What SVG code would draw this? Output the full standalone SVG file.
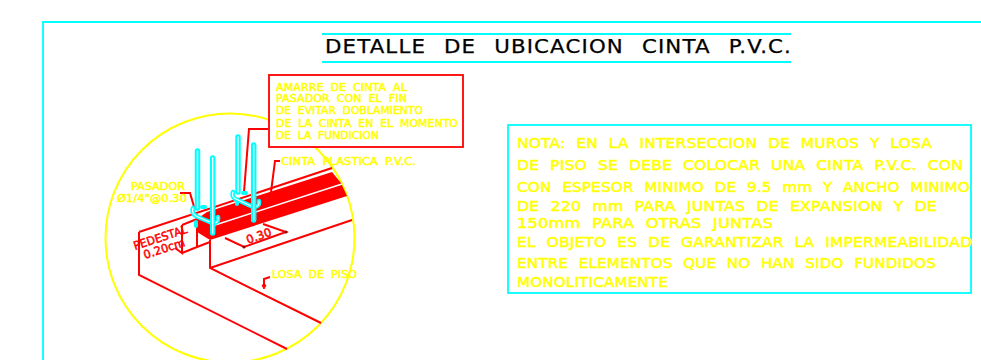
<svg xmlns="http://www.w3.org/2000/svg" width="981" height="360" viewBox="0 0 981 360">
<style>
text{font-family:"DejaVu Sans","Liberation Sans",sans-serif;fill:#ff0;stroke:#ff0;stroke-width:.5}
.note{font-size:13.5px;word-spacing:5px;letter-spacing:.2px}
.small{font-size:10px;word-spacing:3px;letter-spacing:.1px}
.red{fill:#f00;stroke:#f00;font-size:11.5px}
.rl{fill:none;stroke:#f00;stroke-width:2}
.cy{fill:none;stroke:#0ff;stroke-width:1.8}
.barO{fill:none;stroke:#0ff;stroke-width:5.5;stroke-linecap:round;stroke-linejoin:round}
.barI{fill:none;stroke:#fff;stroke-width:1.3;stroke-linecap:round;stroke-linejoin:round}
</style>
<rect width="981" height="360" fill="#fff"/>
<g id="frame"><path class="cy" d="M981 22H43V360"/></g>
<g id="title">
<path class="cy" d="M322 34H791M322 62H791"/>
<text x="325" y="53" font-size="19" textLength="467" lengthAdjust="spacingAndGlyphs" style="fill:#000;stroke:#000;stroke-width:.25;word-spacing:9px;letter-spacing:1px">DETALLE DE UBICACION CINTA P.V.C.</text>
</g>
<g id="detail-circle"><circle cx="230" cy="238" r="124.5" fill="none" stroke="#ff0" stroke-width="2"/></g>
<g id="connectors">
<path class="rl" d="M268 129H249L244 192"/>
<path class="rl" d="M280 161H275L271 192"/>
<path class="rl" d="M180 193H190L195 210"/>
<path class="rl" d="M270 277L264 279V286"/>
<path d="M262 285L264 289L266 285Z" fill="#f00" stroke="#f00"/>
</g>
<g id="slab">
<path d="M197 219L207 212L332 172L341 183L347 196L210 240L197 232Z" fill="#f00"/>
<path d="M212 226L342 184" stroke="#fff" stroke-width="1.5" fill="none"/>
<path class="rl" d="M139 232L332 168M139 232V275L287 349"/>
<path class="rl" d="M210 240V268L321 323M210 268L352 220"/>
<path class="rl" d="M182 225L197 219M182 225V253L175 248M182 253L197 247L210 242M197 219V247"/>
<path class="rl" d="M225 238L244 247L286 232L263 224"/>
<circle cx="244" cy="247" r="1.5" fill="#800"/>
<circle cx="286" cy="232" r="1.5" fill="#800"/>
</g>
<g id="dowels">
<path class="barO" d="M197.5 151V208M238 137V192"/>
<path class="barI" d="M197.5 151V208M238 137V192"/>
<path d="M202 207h3M243 193h3M196 222v4M237 201v3" stroke="#0ff" stroke-width="4" stroke-linecap="round"/>
<path class="barO" style="stroke-width:4.5" d="M193 208Q191 214 198 217L212 223Q219 224 218 217M233 192Q231 198 238 200L253 207Q260 207 259 201"/>
<path class="barI" style="stroke-width:1.2" d="M193 208Q191 214 198 217L212 223Q219 224 218 217M233 192Q231 198 238 200L253 207Q260 207 259 201"/>
<path class="barO" d="M212.7 158V233M253.7 145V220"/>
<path class="barI" d="M212.7 158V233M253.7 145V220"/>
</g>
<g id="callout">
<rect x="269" y="75" width="194" height="72" fill="#fff" stroke="#f00" stroke-width="1.8"/>
<text class="small" x="276" y="91" textLength="131" lengthAdjust="spacingAndGlyphs">AMARRE DE CINTA AL</text>
<text class="small" x="276" y="102" textLength="131" lengthAdjust="spacingAndGlyphs">PASADOR CON EL FIN</text>
<text class="small" x="276" y="114" textLength="147" lengthAdjust="spacingAndGlyphs">DE EVITAR DOBLAMIENTO</text>
<text class="small" x="276" y="127" textLength="182" lengthAdjust="spacingAndGlyphs">DE LA CINTA EN EL MOMENTO</text>
<text class="small" x="276" y="139" textLength="103" lengthAdjust="spacingAndGlyphs">DE LA FUNDICION</text>
</g>
<g id="labels">
<text class="small" x="131" y="190" textLength="54" lengthAdjust="spacingAndGlyphs">PASADOR</text>
<text class="small" x="117" y="202" textLength="70" lengthAdjust="spacingAndGlyphs">Ø1/4"@0.30</text>
<text class="small" x="281" y="165" textLength="135" lengthAdjust="spacingAndGlyphs">CINTA PLASTICA P.V.C.</text>
<text class="small" x="272" y="278" textLength="85" lengthAdjust="spacingAndGlyphs">LOSA DE PISO</text>
<text class="small red" transform="translate(135 250) rotate(-18)" textLength="56" lengthAdjust="spacingAndGlyphs">PEDESTAL</text>
<text class="small red" transform="translate(145 259) rotate(-18)" textLength="43" lengthAdjust="spacingAndGlyphs">0.20cm</text>
<text class="small red" transform="translate(248 244) rotate(-20)" textLength="26" lengthAdjust="spacingAndGlyphs">0.30</text>
</g>
<g id="note">
<rect x="508" y="125" width="463" height="168" fill="none" stroke="#0ff" stroke-width="1.8"/>
<text class="note" x="517" y="148" textLength="415" lengthAdjust="spacingAndGlyphs">NOTA: EN LA INTERSECCION DE MUROS Y LOSA</text>
<text class="note" x="517" y="170" textLength="446" lengthAdjust="spacingAndGlyphs">DE PISO SE DEBE COLOCAR UNA CINTA P.V.C. CON</text>
<text class="note" x="517" y="192" textLength="453" lengthAdjust="spacingAndGlyphs">CON ESPESOR MINIMO DE 9.5 mm Y ANCHO MINIMO</text>
<text class="note" x="517" y="211" textLength="420" lengthAdjust="spacingAndGlyphs">DE 220 mm PARA JUNTAS DE EXPANSION Y DE</text>
<text class="note" x="517" y="228" textLength="256" lengthAdjust="spacingAndGlyphs">150mm PARA OTRAS JUNTAS</text>
<text class="note" x="517" y="247" textLength="455" lengthAdjust="spacingAndGlyphs">EL OBJETO ES DE GARANTIZAR LA IMPERMEABILIDAD</text>
<text class="note" x="517" y="268" textLength="419" lengthAdjust="spacingAndGlyphs">ENTRE ELEMENTOS QUE NO HAN SIDO FUNDIDOS</text>
<text class="note" x="517" y="287" textLength="151" lengthAdjust="spacingAndGlyphs">MONOLITICAMENTE</text>
</g>
</svg>
